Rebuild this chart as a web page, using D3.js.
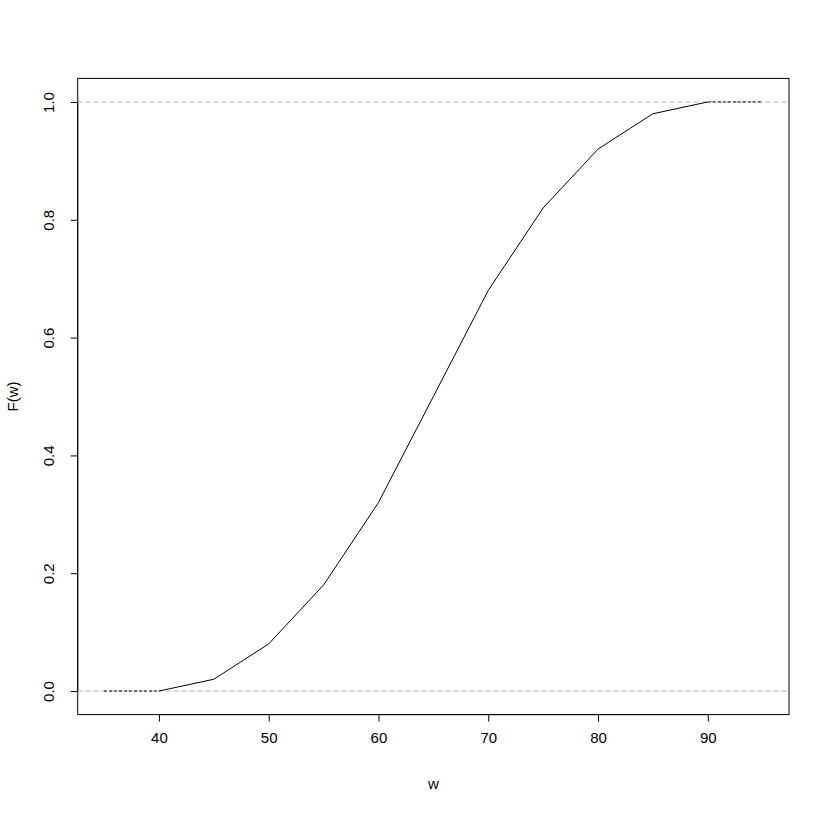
<!DOCTYPE html>
<html>
<head>
<meta charset="utf-8">
<script src="https://cdn.jsdelivr.net/npm/d3@7"></script>
<style>
  body { margin: 0; background: #fff; }
  text { font-family: "Liberation Sans", Arial, sans-serif; }
</style>
</head>
<body>
<div id="chart"></div>
<script>
// class boundaries and cumulative relative frequency
var wValues = [40, 45, 50, 55, 60, 65, 70, 75, 80, 85, 90];
var cumFreq = [0, 0.02, 0.08, 0.18, 0.32, 0.50, 0.68, 0.82, 0.92, 0.98, 1.00];
var leftTail = [35, 40];
var rightTail = [90, 95];
var xTicks = [40, 50, 60, 70, 80, 90];
var yTicks = [0, 0.2, 0.4, 0.6, 0.8, 1.0];
var refLines = [0, 1];

function init() {
  var width = 829, height = 813;
  var left = 77.7, right = 789, top = 78.4, bottom = 714.6;

  var svg = d3.select("#chart").append("svg")
    .attr("width", width)
    .attr("height", height);

  // R style 4% extension
  var xMin = d3.min(leftTail), xMax = d3.max(rightTail);
  var xPad = (xMax - xMin) * 0.04;
  var xScale = d3.scaleLinear()
    .domain([xMin - xPad, xMax + xPad])
    .range([left, right]);
  var yScale = d3.scaleLinear()
    .domain([-0.04, 1.04])
    .range([bottom, top]);

  svg.append("clipPath").attr("id", "clip")
    .append("rect")
    .attr("x", left).attr("y", top)
    .attr("width", right - left).attr("height", bottom - top);

  var plot = svg.append("g").attr("clip-path", "url(#clip)");

  // gray dashed reference lines
  plot.selectAll("line.ref")
    .data(refLines)
    .enter().append("line")
    .attr("class", "ref")
    .attr("x1", left).attr("x2", right)
    .attr("y1", function(d) { return yScale(d); })
    .attr("y2", function(d) { return yScale(d); })
    .attr("stroke", "#b3b3b3")
    .attr("stroke-width", 1)
    .attr("stroke-dasharray", "5,3");

  var line = d3.line()
    .x(function(d) { return xScale(d[0]); })
    .y(function(d) { return yScale(d[1]); });

  // dotted tails
  var tails = [
    leftTail.map(function(w) { return [w, cumFreq[0]]; }),
    rightTail.map(function(w) { return [w, cumFreq[cumFreq.length - 1]]; })
  ];
  plot.selectAll("path.tail")
    .data(tails)
    .enter().append("path")
    .attr("class", "tail")
    .attr("d", line)
    .attr("fill", "none")
    .attr("stroke", "#000")
    .attr("stroke-width", 1)
    .attr("stroke-dasharray", "3,2");

  // ogive
  plot.append("path")
    .datum(wValues.map(function(w, i) { return [w, cumFreq[i]]; }))
    .attr("d", line)
    .attr("fill", "none")
    .attr("stroke", "#000")
    .attr("stroke-width", 1);

  // box
  svg.append("rect")
    .attr("x", left).attr("y", top)
    .attr("width", right - left).attr("height", bottom - top)
    .attr("fill", "none")
    .attr("stroke", "#000")
    .attr("stroke-width", 1);

  // x axis
  var xAxis = svg.append("g")
    .attr("transform", "translate(0," + bottom + ")")
    .call(d3.axisBottom(xScale).tickValues(xTicks).tickSize(7).tickPadding(11)
      .tickFormat(d3.format("d")));
  xAxis.select(".domain")
    .attr("d", "M" + xScale(xTicks[0]) + ",0H" + xScale(xTicks[xTicks.length - 1]));
  xAxis.selectAll("text")
    .attr("font-size", "15px")
    .attr("fill", "#000")
    .attr("font-family", "Liberation Sans, Arial, sans-serif");

  // y axis with rotated labels
  var yAxis = svg.append("g")
    .attr("transform", "translate(" + left + ",0)")
    .call(d3.axisLeft(yScale).tickValues(yTicks).tickSize(7)
      .tickFormat(d3.format(".1f")));
  yAxis.select(".domain")
    .attr("d", "M0," + yScale(yTicks[0]) + "V" + yScale(yTicks[yTicks.length - 1]));
  yAxis.selectAll("text")
    .attr("x", null).attr("dy", null)
    .attr("transform", "translate(-24,0) rotate(-90)")
    .attr("text-anchor", "middle")
    .attr("dy", "0em")
    .attr("font-size", "15px")
    .attr("fill", "#000")
    .attr("font-family", "Liberation Sans, Arial, sans-serif");

  // axis titles
  svg.append("text")
    .attr("x", (left + right) / 2)
    .attr("y", 789)
    .attr("text-anchor", "middle")
    .attr("font-size", "15px")
    .text("w");

  svg.append("text")
    .attr("transform", "translate(18," + (top + bottom) / 2 + ") rotate(-90)")
    .attr("text-anchor", "middle")
    .attr("font-size", "15px")
    .text("F(w)");
}
window.onload = init;
</script>
</body>
</html>
